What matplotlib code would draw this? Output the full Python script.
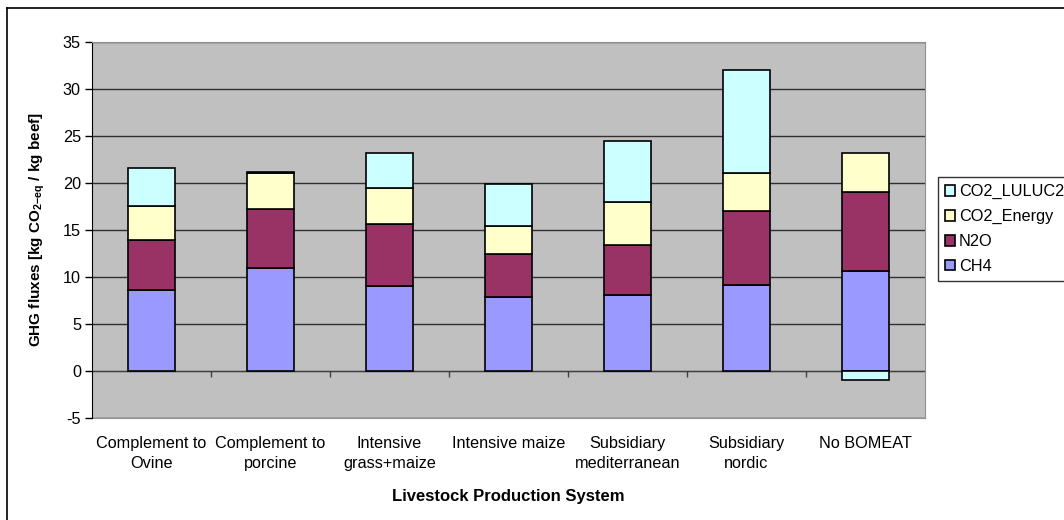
import numpy as np
import matplotlib.pyplot as plt
from matplotlib.lines import Line2D

plt.rcParams['font.family'] = ['Liberation Sans', 'DejaVu Sans']
plt.rcParams['mathtext.fontset'] = 'custom'
plt.rcParams['mathtext.bf'] = 'Liberation Sans:bold'
plt.rcParams['mathtext.rm'] = 'Liberation Sans'
plt.rcParams['axes.unicode_minus'] = False

# Данные
categories = ['Complement to\nOvine', 'Complement to\nporcine', 'Intensive\ngrass+maize',
              'Intensive maize', 'Subsidiary\nmediterranean', 'Subsidiary\nnordic', 'No BOMEAT']
ch4 = [8.6, 10.95, 9.03, 7.86, 8.1, 9.17, 10.66]
n2o = [5.33, 6.32, 6.64, 4.58, 5.27, 7.86, 8.39]
co2_energy = [3.63, 3.81, 3.78, 2.95, 4.61, 4.07, 4.19]
co2_luluc = [4.08, 0.12, 3.79, 4.48, 6.48, 10.96, -0.92]

series = [('CH4', ch4, '#9999FF'), ('N2O', n2o, '#993366'),
          ('CO2_Energy', co2_energy, '#FFFFCC'), ('CO2_LULUC2', co2_luluc, '#CCFFFF')]

fs = 11.7

fig = plt.figure(figsize=(10.64, 5.2), dpi=100)
ax = fig.add_axes([92/1064, 1-418/520, (925-92)/1064, (418-42)/520])
ax.set_facecolor('#C0C0C0')

x = np.arange(len(categories))
pos_base = np.zeros(len(categories))
neg_base = np.zeros(len(categories))
handles = []
for name, vals, color in series:
    v = np.array(vals, dtype=float)
    bottom = np.where(v >= 0, pos_base, neg_base)
    b = ax.bar(x, v, width=0.4, bottom=bottom, color=color, edgecolor='black',
               linewidth=1.2, label=name, zorder=3)
    handles.append(b)
    pos_base += np.where(v >= 0, v, 0)
    neg_base += np.where(v < 0, v, 0)

ax.set_xlim(-0.5, len(categories) - 0.5)
ax.set_ylim(-5, 35)
ax.set_yticks(np.arange(-5, 36, 5))
ax.yaxis.grid(True, color='#303030', linewidth=1, zorder=1)
ax.tick_params(axis='y', direction='out', length=5, width=1, labelsize=fs, pad=3)

# ось X по нулю с засечками между категориями
ax.spines['bottom'].set_position(('data', 0))
ax.spines['bottom'].set_color('#404040')
ax.spines['bottom'].set_zorder(2)
ax.set_xticks(x)
ax.set_xticks(np.arange(0.5, len(categories) - 0.5, 1), minor=True)
ax.tick_params(axis='x', which='major', length=0, labelbottom=False)
ax.tick_params(axis='x', which='minor', direction='out', length=4, width=1, color='#404040')
ax.spines['left'].set_color('black')
for s in ['top', 'right']:
    ax.spines[s].set_color('#909090')

sec = ax.secondary_xaxis('bottom')
sec.set_xticks(x)
sec.set_xticklabels(categories, fontsize=fs)
sec.tick_params(length=0, pad=13)
sec.spines['bottom'].set_color('#909090')
for t in sec.get_xticklabels():
    t.set_linespacing(1.38)

ax.set_ylabel(r'GHG fluxes [kg CO$_{\mathbf{2{-}eq}}$ / kg beef]', fontsize=11,
              fontweight='bold', labelpad=11)
sec.set_xlabel('Livestock Production System', fontsize=12, fontweight='bold', labelpad=13)

leg = fig.legend(handles[::-1], [s[0] for s in series[::-1]], loc='upper left',
                 bbox_to_anchor=(938/1064, 1-177/520), bbox_transform=fig.transFigure,
                 borderaxespad=0, fontsize=fs, handlelength=0.6, handleheight=0.6,
                 handletextpad=0.25, labelspacing=0.6, fancybox=False,
                 edgecolor='black', borderpad=0.45)
leg.get_frame().set_linewidth(1)

# рамка диаграммы
fig.add_artist(Line2D([7/1064, 7/1064], [0, 1-8/520], color='black', linewidth=1.2))
fig.add_artist(Line2D([7/1064, 1], [1-8/520, 1-8/520], color='black', linewidth=1.2))

fig.savefig('out.png', dpi=100)
